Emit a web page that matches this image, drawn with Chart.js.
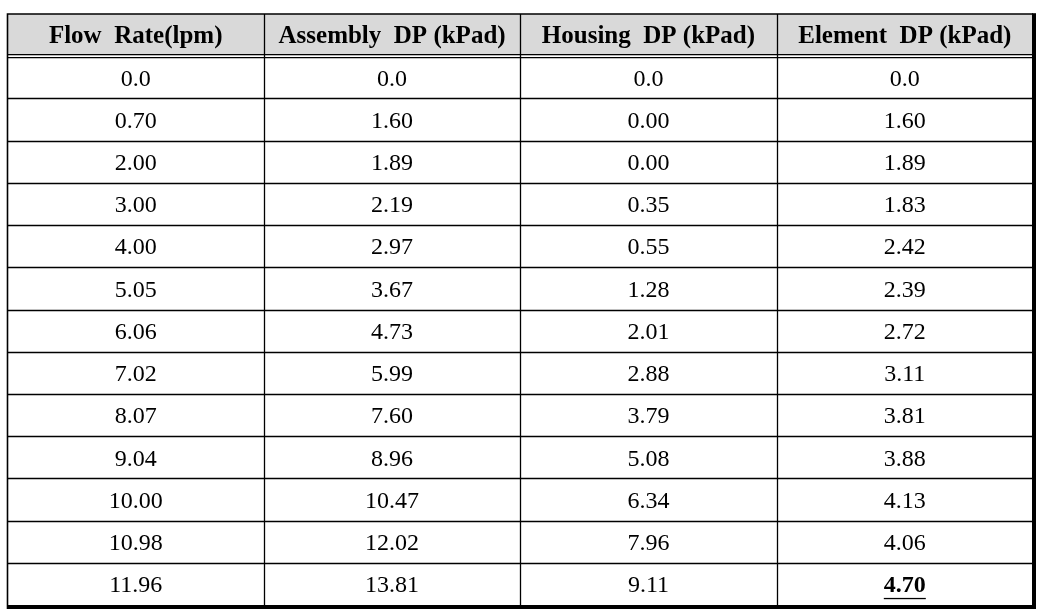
<!DOCTYPE html>
<html>
<head>
<meta charset="utf-8">
<script src="https://cdn.jsdelivr.net/npm/chart.js@4/dist/chart.umd.min.js"></script>
<style>
  html, body { margin: 0; padding: 0; background: #fff; }
  #wrap { width: 1047px; height: 615px; }
</style>
</head>
<body>
<div id="wrap"><canvas id="chart1" width="1047" height="615"></canvas></div>
<script>
// table contents
var headers = ["Flow  Rate(lpm)", "Assembly  DP (kPad)", "Housing  DP (kPad)", "Element  DP (kPad)"];
var flowRate = ["0.0", "0.70", "2.00", "3.00", "4.00", "5.05", "6.06", "7.02", "8.07", "9.04", "10.00", "10.98", "11.96"];
var assemblyDP = ["0.0", "1.60", "1.89", "2.19", "2.97", "3.67", "4.73", "5.99", "7.60", "8.96", "10.47", "12.02", "13.81"];
var housingDP = ["0.0", "0.00", "0.00", "0.35", "0.55", "1.28", "2.01", "2.88", "3.79", "5.08", "6.34", "7.96", "9.11"];
var elementDP = ["0.0", "1.60", "1.89", "1.83", "2.42", "2.39", "2.72", "3.11", "3.81", "3.88", "4.13", "4.06", "4.70"];
// last element value is bold + underlined in the original
var highlight = { col: 3, row: 12 };

var rowLabels = ["header"].concat(flowRate);
var columns = [flowRate, assemblyDP, housingDP, elementDP];

var FONT = "'Liberation Serif', 'Times New Roman', serif";

var tablePlugin = {
  id: "tablePlugin",
  beforeDatasetsDraw: function (chart) {
    var ctx = chart.ctx;
    var xs = chart.scales.x, ys = chart.scales.y;
    var stepX = (xs.right - xs.left) / headers.length;
    var stepY = (ys.bottom - ys.top) / rowLabels.length;
    var left = xs.left, right = xs.right, top = ys.top, bottom = ys.bottom;
    var headBottom = ys.getPixelForValue(0) + stepY / 2;

    ctx.save();
    // header background
    ctx.fillStyle = "#d9d9d9";
    ctx.fillRect(left, top, right - left, headBottom - top);

    ctx.strokeStyle = "#000";
    ctx.lineWidth = 1.3;
    // row lines
    for (var r = 1; r < rowLabels.length - 1; r++) {
      var y = Math.round(ys.getPixelForValue(r) + stepY / 2) + 0.5;
      ctx.beginPath();
      ctx.moveTo(left, y);
      ctx.lineTo(right, y);
      ctx.stroke();
    }
    // double line under header
    ctx.fillStyle = "#fff";
    ctx.fillRect(left, headBottom - 1, right - left, 3);
    [headBottom - 1.5, headBottom + 1.5].forEach(function (y) {
      ctx.beginPath();
      ctx.moveTo(left, y);
      ctx.lineTo(right, y);
      ctx.stroke();
    });
    // column lines
    for (var c = 1; c < headers.length; c++) {
      var x = Math.round(xs.getPixelForValue(c) - stepX / 2) + 0.5;
      ctx.beginPath();
      ctx.moveTo(x, top);
      ctx.lineTo(x, bottom);
      ctx.stroke();
    }
    // outer frame: thin top/left, heavy right/bottom
    ctx.lineWidth = 1.6;
    ctx.beginPath();
    ctx.moveTo(left, bottom);
    ctx.lineTo(left, top);
    ctx.lineTo(right, top);
    ctx.stroke();
    ctx.fillStyle = "#000";
    ctx.fillRect(right - 1, top - 0.8, 4, bottom - top + 4.8);
    ctx.fillRect(left - 0.8, bottom, right - left + 3.8, 4);
    ctx.restore();
  },
  afterDatasetsDraw: function (chart) {
    var ctx = chart.ctx;
    ctx.save();
    ctx.textAlign = "center";
    ctx.textBaseline = "middle";
    ctx.fillStyle = "#000";
    chart.data.datasets.forEach(function (ds, c) {
      var meta = chart.getDatasetMeta(c);
      meta.data.forEach(function (pt, r) {
        var text = ds.cellText[r];
        var mark = c === highlight.col && r === highlight.row + 1;
        if (r === 0) {
          ctx.font = "bold 25px " + FONT;
          ctx.fillText(text, pt.x, pt.y + 1);
          return;
        }
        ctx.font = (mark ? "bold " : "") + "24px " + FONT;
        ctx.fillText(text, pt.x, pt.y + 2);
        if (mark) {
          var w = ctx.measureText(text).width;
          ctx.fillRect(pt.x - w / 2, pt.y + 14, w, 1.3);
        }
      });
    });
    ctx.restore();
  }
};

var datasets = columns.map(function (col, c) {
  var texts = [headers[c]].concat(col);
  return {
    label: headers[c],
    data: rowLabels.map(function (lab) {
      return { x: headers[c], y: lab };
    }),
    cellText: texts,
    pointRadius: 0,
    pointHoverRadius: 0
  };
});

var ctx = document.getElementById("chart1").getContext("2d");
var chart = new Chart(ctx, {
  type: "scatter",
  data: { datasets: datasets },
  options: {
    responsive: false,
    animation: false,
    layout: { padding: { left: 7.5, top: 14, right: 14, bottom: 10 } },
    plugins: { legend: { display: false }, tooltip: { enabled: false } },
    events: [],
    scales: {
      x: { type: "category", labels: headers, offset: true, display: false },
      y: { type: "category", labels: rowLabels, offset: true, display: false }
    }
  },
  plugins: [tablePlugin]
});
</script>
</body>
</html>
